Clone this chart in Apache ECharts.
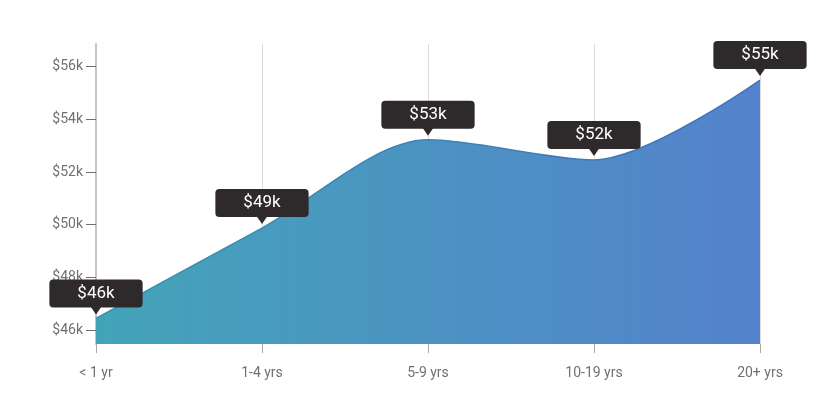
<!DOCTYPE html>
<html>
<head>
<meta charset="utf-8">
<script src="https://cdn.jsdelivr.net/npm/echarts@6/dist/echarts.min.js"></script>
<style>html,body{margin:0;padding:0;background:#fff}#c{width:832px;height:410px}</style>
</head>
<body>
<div id="c"></div>
<script>
var categories = ['< 1 yr', '1-4 yrs', '5-9 yrs', '10-19 yrs', '20+ yrs'];
var salaries = [46.44, 49.87, 53.22, 52.46, 55.49];
var salaryLabels = ['$46k', '$49k', '$53k', '$52k', '$55k'];
var yTicks = [46, 48, 50, 52, 54, 56];

var chart = echarts.init(document.getElementById('c'), null, {renderer: 'canvas'});
var grad = function (a, b) {
  return new echarts.graphic.LinearGradient(0, 0, 1, 0, [
    {offset: 0, color: a}, {offset: 1, color: b}
  ]);
};
chart.setOption({
  animation: false,
  backgroundColor: '#fff',
  textStyle: {fontFamily: 'Roboto'},
  grid: {left: 96, right: 72, top: 44, bottom: 66},
  xAxis: {
    type: 'category',
    data: categories,
    boundaryGap: false,
    axisLine: {show: false},
    axisTick: {show: true, length: 9, lineStyle: {color: '#a8a8a8'}},
    axisLabel: {color: '#707070', fontSize: 14, margin: 22, fontFamily: 'Roboto'},
    splitLine: {show: true, lineStyle: {color: '#dcdcdc', width: 1}}
  },
  yAxis: {
    type: 'value',
    min: 45.47,
    max: 56.86,
    axisLine: {show: true, lineStyle: {color: '#c4c4c4', width: 2}},
    axisTick: {show: true, length: 10, customValues: yTicks, lineStyle: {color: '#707070'}},
    axisLabel: {
      color: '#707070', fontSize: 14, margin: 13, fontFamily: 'Roboto',
      customValues: yTicks,
      formatter: function (v) { return '$' + Math.round(v) + 'k'; }
    },
    splitLine: {show: false}
  },
  series: [
    {
      type: 'line',
      data: salaries,
      smooth: 0.3,
      showSymbol: false,
      symbol: 'none',
      lineStyle: {width: 1.5, color: grad('#3393ab', '#4372c0')},
      areaStyle: {color: grad('#3ba0b5', '#4d7dca'), opacity: 0.96},
      z: 2
    },
    {
      type: 'scatter',
      data: salaries,
      symbol: 'triangle',
      symbolRotate: 180,
      symbolSize: [11, 8],
      symbolOffset: [0, -8],
      itemStyle: {color: '#2e2a2b', opacity: 1},
      label: {
        show: true,
        position: 'inside',
        offset: [0, -17],
        formatter: function (p) { return salaryLabels[p.dataIndex]; },
        color: '#ffffff',
        fontSize: 17,
        fontFamily: 'Roboto',
        backgroundColor: '#2e2a2b',
        borderRadius: 4,
        padding: [4, 28],
        lineHeight: 20,
        opacity: 1
      },
      emphasis: {disabled: true},
      z: 5
    }
  ]
});
</script>
</body>
</html>
